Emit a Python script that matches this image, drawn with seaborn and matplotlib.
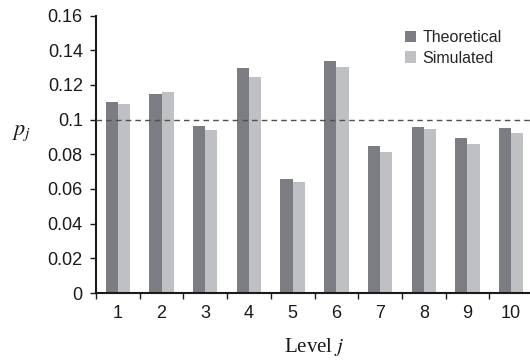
import numpy as np
import pandas as pd
import matplotlib
matplotlib.use("Agg")
import matplotlib.pyplot as plt
import seaborn as sns

levels = ["1", "2", "3", "4", "5", "6", "7", "8", "9", "10"]
theoretical = [0.1100, 0.1146, 0.0965, 0.1297, 0.0656, 0.1337, 0.0850, 0.0957, 0.0892, 0.0950]
simulated = [0.1088, 0.1159, 0.0937, 0.1247, 0.0639, 0.1305, 0.0813, 0.0944, 0.0858, 0.0923]
series_names = ["Theoretical", "Simulated"]
reference_level = 0.1
y_ticks = [0, 0.02, 0.04, 0.06, 0.08, 0.1, 0.12, 0.14, 0.16]
y_tick_labels = ["0", "0.02", "0.04", "0.06", "0.08", "0.1", "0.12", "0.14", "0.16"]

df = pd.DataFrame({
    "level": levels * 2,
    "p": theoretical + simulated,
    "series": [series_names[0]] * len(levels) + [series_names[1]] * len(levels),
})

sns.set_style("ticks")
plt.rcParams["font.family"] = ["Liberation Sans", "DejaVu Sans"]
plt.rcParams["mathtext.fontset"] = "stix"

W, H = 530, 361
fig = plt.figure(figsize=(W / 100, H / 100), dpi=100)
ax_left, ax_right = 96, 533
ax_bottom, ax_top = 293, 15.5
ax = fig.add_axes([ax_left / W, 1 - ax_bottom / H, (ax_right - ax_left) / W, (ax_bottom - ax_top) / H])

palette = {"Theoretical": "#7c7d82", "Simulated": "#bfc0c4"}
sns.barplot(data=df, x="level", y="p", hue="series", order=levels,
            hue_order=series_names, palette=palette, width=0.56,
            saturation=1, ax=ax, legend=False, edgecolor="none", linewidth=0)

ax.axhline(reference_level, color="#505050", lw=1.0, ls=(0, (4, 3)), zorder=5)

ax.set_xlim(-0.5, 9.5)
ax.set_ylim(0, 0.16)
ax.set_yticks(y_ticks)
ax.set_yticklabels(y_tick_labels)
ax.set_xticks(np.arange(len(levels)))
ax.set_xticklabels(levels)
ax.set_xticks(np.arange(len(levels) + 1) - 0.5, minor=True)

for s in ["top", "right"]:
    ax.spines[s].set_visible(False)
for s in ["left", "bottom"]:
    ax.spines[s].set_linewidth(1.5)
    ax.spines[s].set_color("#1a1a1a")

ax.tick_params(axis="y", direction="out", length=4.5, width=1.0, pad=5,
               labelsize=13, colors="#1a1a1a")
ax.tick_params(axis="x", which="major", length=0, pad=9, labelsize=13, colors="#1a1a1a")
ax.tick_params(axis="x", which="minor", direction="out", length=4.5, width=1.0, color="#1a1a1a")

ax.set_xlabel("")
ax.set_ylabel("")
fig.text(314 / W, 1 - 347 / H, "Level $j$", ha="center", va="center",
         fontsize=15, family="Liberation Serif", color="#1a1a1a")
fig.text(22 / W, 1 - 132 / H, "$p_j$", ha="center", va="center",
         fontsize=16, color="#1a1a1a")

from matplotlib.patches import Patch
handles = [Patch(facecolor=palette[n], edgecolor="none") for n in series_names]
fig.legend(handles, series_names, loc="upper left",
           bbox_to_anchor=(405 / W, 1 - 30 / H), bbox_transform=fig.transFigure,
           frameon=False, fontsize=11.5, handlelength=0.7, handleheight=0.7,
           handletextpad=0.4, labelspacing=0.35, borderpad=0, borderaxespad=0)

fig.savefig("out.png", dpi=100)
